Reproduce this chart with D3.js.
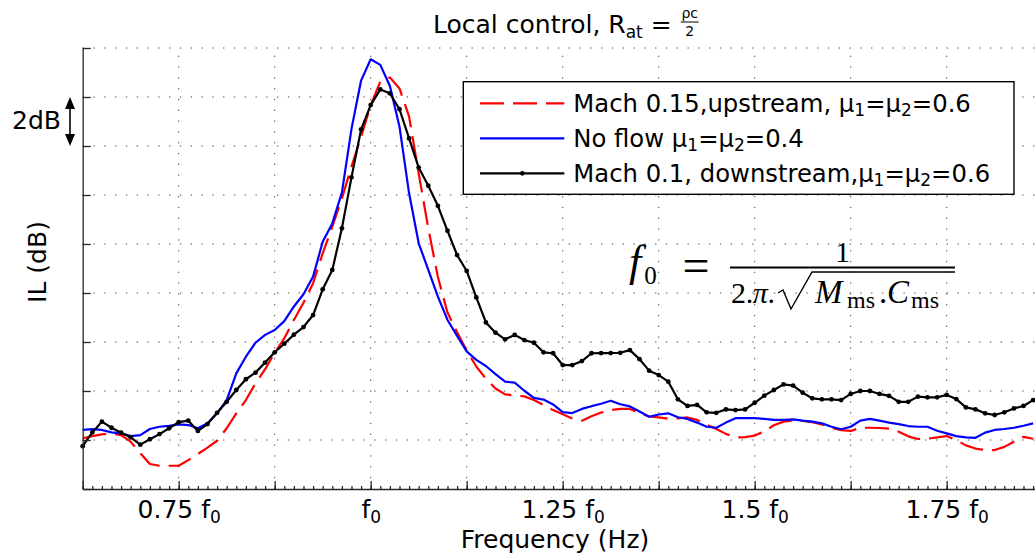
<!DOCTYPE html>
<html>
<head>
<meta charset="utf-8">
<script src="https://d3js.org/d3.v7.min.js"></script>
<style>
  body { margin: 0; background: #fff; }
  text { font-family: "DejaVu Sans", sans-serif; fill: #000; }
  .serif { font-family: "Liberation Serif", serif; }
</style>
</head>
<body>
<svg id="chart" width="1035" height="553"></svg>
<script>
// frequency grid (in units of f0), one sample every marker
var freq = [
  0.625, 0.6375, 0.65, 0.6625, 0.675, 0.6875, 0.7, 0.7125, 0.725, 0.7375,
  0.75, 0.7625, 0.775, 0.7875, 0.8, 0.8125, 0.825, 0.8375, 0.85, 0.8625,
  0.875, 0.8875, 0.9, 0.9125, 0.925, 0.9375, 0.95, 0.9625, 0.975, 0.9875,
  1, 1.0125, 1.025, 1.0375, 1.05, 1.0625, 1.075, 1.0875, 1.1, 1.1125,
  1.125, 1.1375, 1.15, 1.1625, 1.175, 1.1875, 1.2, 1.2125, 1.225, 1.2375,
  1.25, 1.2625, 1.275, 1.2875, 1.3, 1.3125, 1.325, 1.3375, 1.35, 1.3625,
  1.375, 1.3875, 1.4, 1.4125, 1.425, 1.4375, 1.45, 1.4625, 1.475, 1.4875,
  1.5, 1.5125, 1.525, 1.5375, 1.55, 1.5625, 1.575, 1.5875, 1.6, 1.6125,
  1.625, 1.6375, 1.65, 1.6625, 1.675, 1.6875, 1.7, 1.7125, 1.725, 1.7375,
  1.75, 1.7625, 1.775, 1.7875, 1.8, 1.8125, 1.825, 1.8375, 1.85, 1.8625
];

// IL (dB, relative) - Mach 0.15 upstream
var machUp = [
  2.07, 2.16, 2.23, 2.27, 2.20, 1.93, 1.46, 1.02, 0.95, 0.95,
  0.95, 1.18, 1.43, 1.69, 1.97, 2.48, 3.09, 3.63, 4.31, 4.89,
  5.56, 6.15, 6.90, 7.60, 8.40, 9.62, 10.71, 11.86, 13.16, 14.38,
  15.67, 16.63, 16.80, 16.35, 15.20, 12.88, 10.64, 8.65, 7.20, 6.40,
  5.65, 5.00, 4.50, 4.10, 3.86, 3.82, 3.78, 3.63, 3.43, 3.22,
  3.05, 2.88, 2.79, 2.97, 3.12, 3.22, 3.27, 3.27, 3.10, 2.96,
  2.92, 2.87, 2.88, 2.92, 2.82, 2.62, 2.45, 2.25, 2.10, 2.12,
  2.18, 2.35, 2.60, 2.75, 2.79, 2.78, 2.73, 2.64, 2.50, 2.40,
  2.37, 2.50, 2.50, 2.49, 2.46, 2.34, 2.15, 2.04, 2.05, 2.11,
  2.16, 2.00, 1.78, 1.65, 1.59, 1.59, 1.72, 1.93, 2.13, 2.05
];

// No flow
var noFlow = [
  2.41, 2.44, 2.41, 2.31, 2.27, 2.16, 2.20, 2.45, 2.54, 2.58,
  2.64, 2.61, 2.48, 2.68, 3.09, 3.63, 4.72, 5.40, 5.97, 6.29,
  6.49, 6.85, 7.45, 7.95, 8.67, 10.09, 10.84, 12.10, 14.70, 16.67,
  17.54, 17.31, 16.45, 14.79, 12.07, 10.03, 8.94, 7.85, 6.90, 6.25,
  5.62, 5.27, 5.02, 4.69, 4.38, 4.34, 4.01, 3.72, 3.65, 3.45,
  3.14, 3.10, 3.27, 3.38, 3.48, 3.60, 3.46, 3.37, 3.16, 2.95,
  3.04, 3.09, 2.93, 2.86, 2.71, 2.54, 2.50, 2.71, 2.89, 2.89,
  2.89, 2.86, 2.82, 2.82, 2.84, 2.79, 2.75, 2.68, 2.54, 2.44,
  2.54, 2.79, 2.86, 2.79, 2.71, 2.65, 2.57, 2.54, 2.54, 2.38,
  2.27, 2.16, 2.11, 2.09, 2.30, 2.41, 2.45, 2.50, 2.58, 2.68
];

// Mach 0.1 downstream
var machDown = [
  1.75, 2.31, 2.75, 2.50, 2.30, 2.11, 1.81, 2.03, 2.24, 2.48,
  2.73, 2.79, 2.37, 2.65, 3.11, 3.56, 4.04, 4.48, 4.75, 5.16,
  5.58, 5.93, 6.30, 6.61, 7.10, 8.15, 8.94, 10.64, 12.72, 14.68,
  15.67, 16.31, 16.15, 15.50, 14.31, 13.12, 12.38, 11.56, 10.54, 9.55,
  8.90, 7.82, 6.80, 6.38, 6.11, 6.29, 6.08, 5.97, 5.58, 5.54,
  5.06, 5.06, 5.22, 5.54, 5.55, 5.55, 5.56, 5.67, 5.30, 4.83,
  4.65, 4.38, 3.66, 3.39, 3.43, 3.13, 3.11, 3.25, 3.22, 3.25,
  3.52, 3.81, 4.04, 4.27, 4.22, 3.93, 3.70, 3.66, 3.66, 3.63,
  3.88, 4.00, 4.00, 3.88, 3.80, 3.56, 3.56, 3.77, 3.74, 3.74,
  3.84, 3.67, 3.33, 3.25, 3.09, 3.02, 3.13, 3.29, 3.39, 3.63
];

var xMajor = [0.625, 0.75, 0.875, 1, 1.125, 1.25, 1.375, 1.5, 1.625, 1.75, 1.875];
var xLabelAt = [0.75, 1, 1.25, 1.5, 1.75];
var xLabelText = ['0.75', '', '1.25', '1.5', '1.75'];
var yTicks = [0, 2, 4, 6, 8, 10, 12, 14, 16, 18];

var config = {
    margin: {top: 48, left: 82.7}
  , plot: {width: 960, height: 441}
  , fontSize: 25
  , legendFont: 24.3
  , axisColor: '#262626'
};

var svg = d3.select('#chart');

var x = d3.scaleLinear().domain([0.625, 1.875]).range([0, config.plot.width]);
var y = d3.scaleLinear().domain([0, 18]).range([config.plot.height, 0]);

var plot = svg.append('g')
    .attr('transform', 'translate(' + [config.margin.left, config.margin.top] + ')');

// dotted grid
var grid = plot.append('g').attr('class', 'grid')
    .attr('stroke', '#444').attr('stroke-width', 1).attr('stroke-dasharray', '1.3,9.5');
grid.selectAll('line.v').data(xMajor.slice(1)).enter().append('line')
    .attr('x1', function(d){ return x(d); }).attr('x2', function(d){ return x(d); })
    .attr('y1', y(0)).attr('y2', y(18));
grid.selectAll('line.h').data(yTicks.slice(1)).enter().append('line')
    .attr('x1', 0).attr('x2', config.plot.width)
    .attr('y1', function(d){ return y(d); }).attr('y2', function(d){ return y(d); });

// series
var line = d3.line()
    .x(function(d, i){ return x(freq[i]); })
    .y(function(d){ return y(d); });

var curves = plot.append('g').attr('class', 'curves').attr('fill', 'none')
    .attr('stroke-linejoin', 'round');
curves.append('path').datum(machUp).attr('d', line)
    .attr('stroke', '#ff0000').attr('stroke-width', 2.2).attr('stroke-dasharray', '24,9');
curves.append('path').datum(noFlow).attr('d', line)
    .attr('stroke', '#0000ff').attr('stroke-width', 2.2);
curves.append('path').datum(machDown).attr('d', line)
    .attr('stroke', '#000').attr('stroke-width', 2.2);
curves.selectAll('circle').data(machDown).enter().append('circle')
    .attr('cx', function(d, i){ return x(freq[i]); })
    .attr('cy', function(d){ return y(d); })
    .attr('r', 2.4).attr('fill', '#000').attr('stroke', 'none');

// axes
var xMinor = plot.append('g')
    .attr('transform', 'translate(0,' + config.plot.height + ')')
    .call(d3.axisBottom(x).tickValues(freq.concat([1.875])).tickSizeInner(-3).tickSizeOuter(0).tickFormat(''));
xMinor.select('.domain').remove();

var xAxis = plot.append('g')
    .attr('transform', 'translate(0,' + config.plot.height + ')')
    .call(d3.axisBottom(x).tickValues(xMajor).tickSizeInner(-8).tickSizeOuter(0).tickPadding(11)
          .tickFormat(function(d){ return xLabelAt.indexOf(d) >= 0 ? 'x' : ''; }));

xAxis.selectAll('.tick text').each(function(d){
    var i = xLabelAt.indexOf(d);
    var t = d3.select(this).text('').attr('font-size', config.fontSize)
        .attr('font-family', '"DejaVu Sans", sans-serif').attr('fill', '#000');
    if (i < 0) return;
    if (xLabelText[i]) t.append('tspan').text(xLabelText[i] + ' ');
    t.append('tspan').text('f');
    t.append('tspan').attr('font-size', 17).attr('dy', 5).text('0');
});

var yAxis = plot.append('g')
    .call(d3.axisLeft(y).tickValues(yTicks).tickSizeInner(-8).tickSizeOuter(0).tickFormat(''));

[xMinor, xAxis, yAxis].forEach(function(g){
    g.selectAll('line, path').attr('stroke', config.axisColor).attr('stroke-width', 1.3);
});

// axis labels
svg.append('text')
    .attr('x', 555).attr('y', 548).attr('text-anchor', 'middle')
    .attr('font-size', config.fontSize).text('Frequency (Hz)');

svg.append('text')
    .attr('transform', 'translate(46,262) rotate(-90)').attr('text-anchor', 'middle')
    .attr('font-size', config.fontSize).text('IL (dB)');

// title with subscript and small fraction
var title = svg.append('text').attr('x', 433).attr('y', 33).attr('font-size', config.fontSize);
title.append('tspan').text('Local control, R');
title.append('tspan').attr('font-size', 17).attr('dy', 5).text('at');
title.append('tspan').attr('dy', -5).text(' =');
var tEnd = 433 + title.node().getComputedTextLength() + 9;
svg.append('text').attr('x', tEnd + 9).attr('y', 17.5).attr('text-anchor', 'middle')
    .attr('font-size', 14).text('ρc');
svg.append('line').attr('x1', tEnd).attr('x2', tEnd + 18).attr('y1', 22).attr('y2', 22)
    .attr('stroke', '#000').attr('stroke-width', 1);
svg.append('text').attr('x', tEnd + 9).attr('y', 36).attr('text-anchor', 'middle')
    .attr('font-size', 14).text('2');

// 2dB scale marker
var yScaleBar = [14, 16];
var arrowX = 70;
var ann = svg.append('g');
ann.append('text').attr('x', 12).attr('y', 129).attr('font-size', config.fontSize).text('2dB');
ann.append('line')
    .attr('x1', arrowX).attr('x2', arrowX)
    .attr('y1', config.margin.top + y(yScaleBar[1]) + 8).attr('y2', config.margin.top + y(yScaleBar[0]) - 8)
    .attr('stroke', '#000').attr('stroke-width', 1.6);
ann.append('path')
    .attr('d', 'M' + arrowX + ',' + (config.margin.top + y(yScaleBar[1])) + 'l-5,12h10z')
    .attr('fill', '#000');
ann.append('path')
    .attr('d', 'M' + arrowX + ',' + (config.margin.top + y(yScaleBar[0])) + 'l-5,-12h10z')
    .attr('fill', '#000');

// legend
var legendItems = [
    {color: '#ff0000', dash: '24,9', marker: false,
     parts: [['Mach 0.15,upstream, μ'], ['1', 1], ['=μ'], ['2', 1], ['=0.6']]}
  , {color: '#0000ff', dash: null, marker: false,
     parts: [['No flow μ'], ['1', 1], ['=μ'], ['2', 1], ['=0.4']]}
  , {color: '#000', dash: null, marker: true,
     parts: [['Mach 0.1, downstream,μ'], ['1', 1], ['=μ'], ['2', 1], ['=0.6']]}
];
var legend = svg.append('g').attr('transform', 'translate(463.3,81.7)');
legend.append('rect').attr('width', 550.7).attr('height', 112.6)
    .attr('fill', '#fff').attr('stroke', '#000').attr('stroke-width', 1.4);
var entry = legend.selectAll('g.entry').data(legendItems).enter().append('g')
    .attr('class', 'entry')
    .attr('transform', function(d, i){ return 'translate(0,' + (21.6 + i * 35) + ')'; });
entry.append('line').attr('x1', 16.7).attr('x2', 101)
    .attr('stroke', function(d){ return d.color; }).attr('stroke-width', 2.3)
    .attr('stroke-dasharray', function(d){ return d.dash; });
entry.filter(function(d){ return d.marker; }).append('circle')
    .attr('cx', 59).attr('r', 2.4).attr('fill', '#000');
entry.append('text').attr('x', 110).attr('y', 8.5).attr('font-size', config.legendFont)
    .each(function(d){
        var t = d3.select(this), sub = false;
        d.parts.forEach(function(p){
            var s = t.append('tspan').text(p[0]);
            if (p[1]) { s.attr('font-size', 17).attr('dy', 4); sub = true; }
            else if (sub) { s.attr('dy', -4); sub = false; }
        });
    });

// formula f0 = 1 / (2.pi.sqrt(Mms.Cms))
var fm = svg.append('g').attr('class', 'formula');
var f0 = fm.append('text').attr('class', 'serif').attr('x', 629).attr('y', 276).attr('font-size', 44);
f0.append('tspan').attr('font-style', 'italic').text('f');
f0.append('tspan').attr('font-size', 25).attr('dy', 8).attr('dx', 3).text('0');
fm.append('text').attr('class', 'serif').attr('x', 696).attr('y', 282).attr('text-anchor', 'middle')
    .attr('font-size', 48).text('=');
fm.append('line').attr('x1', 730).attr('x2', 955).attr('y1', 267.5).attr('y2', 267.5)
    .attr('stroke', '#000').attr('stroke-width', 1.8);
fm.append('text').attr('class', 'serif').attr('x', 842.5).attr('y', 261.7).attr('text-anchor', 'middle')
    .attr('font-size', 30).text('1');
var d1 = fm.append('text').attr('class', 'serif').attr('x', 731).attr('y', 303).attr('font-size', 30)
    .attr('textLength', 44).attr('lengthAdjust', 'spacing');
d1.append('tspan').text('2.');
d1.append('tspan').attr('font-style', 'italic').text('π');
d1.append('tspan').text('.');
fm.append('path').attr('d', 'M778,293 L783,290 L791,309 L812,272 H955')
    .attr('fill', 'none').attr('stroke', '#000').attr('stroke-width', 1.4);
var d2 = fm.append('text').attr('class', 'serif').attr('y', 303).attr('font-size', 33);
d2.append('tspan').attr('x', 815).attr('font-style', 'italic').text('M');
d2.append('tspan').attr('x', 847).attr('font-size', 24).attr('dy', 5).text('ms');
d2.append('tspan').attr('x', 879).attr('dy', -5).text('.');
d2.append('tspan').attr('x', 887).attr('font-style', 'italic').text('C');
d2.append('tspan').attr('x', 911).attr('font-size', 24).attr('dy', 5).text('ms');
</script>
</body>
</html>
